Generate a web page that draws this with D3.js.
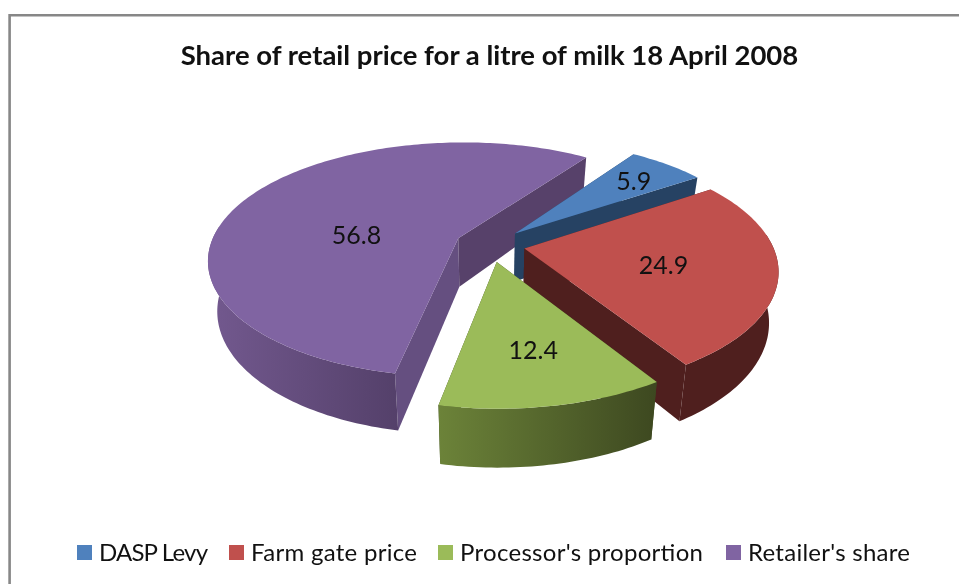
<!DOCTYPE html>
<html>
<head>
<meta charset="utf-8">
<script src="https://cdn.jsdelivr.net/npm/d3@7"></script>
<style>
html, body { margin: 0; padding: 0; background: #fff; }
svg { display: block; filter: blur(0.45px); }
text { font-family: Lato, "Open Sans", sans-serif; fill: #111; }
</style>
</head>
<body>
<div id="chart"></div>
<script>
// Data.
var categories = ["DASP Levy", "Farm gate price", "Processor's proportion", "Retailer's share"];
var shares = [5.9, 24.9, 12.4, 56.8];
var chartTitle = "Share of retail price for a litre of milk 18 April 2008";

var width = 959;
var height = 584;

// Fake 3D camera, worked out from the slice corners.
var cx = 490, cy = 245;
var radius = 248;
var explode = 35;
var tilt = 0.482;
var persp = 0.000718;
var depth = 49;
var bottomScale = 0.967;
var firstAngle = 36;

var topColors = ["#4f81bd", "#c0504d", "#9bbb59", "#8064a2"];
var edgeColors = ["#264263", "#4f1f1e", "#3d4820", "#57416a"];  // wall on the last edge of a slice
var startColors = ["#264263", "#4f1f1e", "#3d4820", "#654f80"]; // wall on the first edge
var wallStops = [["#264263", "#264263"], ["#4f1f1e", "#4f1f1e"], ["#6c8339", "#3d4820"], ["#73598f", "#54406a"]];

// label spot as a fraction of the radius along the slice's middle, plus a nudge
var labelFrac = [0.74, 0.56, 0.64, 0.45];
var labelDx = [2, -1, 2, -5];
var labelDy = [1, 2, 1, 17];

// legend layout
var legendSwatchX = [77, 229, 438, 726];
var legendTextW = [109, 166, 243, 162];

var svg = d3.select("#chart").append("svg")
	.attr("width", width)
	.attr("height", height);

var defs = svg.append("defs");

// frame round the chart, open on the right like the cropped original
svg.append("path")
	.attr("d", "M9.6," + height + "V15.3H" + width)
	.attr("fill", "none")
	.attr("stroke", "#878787")
	.attr("stroke-width", 2.6);

svg.append("text")
	.attr("x", 489.5)
	.attr("y", 64.5)
	.attr("text-anchor", "middle")
	.attr("font-size", 27.5)
	.attr("font-weight", 700)
	.text(chartTitle);

var pie = d3.pie()
	.sort(null)
	.startAngle(firstAngle * Math.PI / 180)
	.endAngle((firstAngle + 360) * Math.PI / 180);

var slices = pie(shares);

// ground plane -> screen. down=true gives the lower face of the pie.
function project(gx, gy, down) {
	var f = 1 + persp * gy;
	var s = down ? bottomScale : 1;
	return [cx + gx * f * s, cy + (tilt * gy + (down ? depth : 0)) * f];
}

function ground(d, angle, r) {
	var mid = (d.startAngle + d.endAngle) / 2;
	return [
		explode * Math.sin(mid) + r * Math.sin(angle),
		-explode * Math.cos(mid) - r * Math.cos(angle)
	];
}

function rimPoints(d, down) {
	var n = Math.ceil((d.endAngle - d.startAngle) / 0.02);
	return d3.range(n + 1).map(function(i) {
		var a = d.startAngle + (d.endAngle - d.startAngle) * i / n;
		var g = ground(d, a, radius);
		return project(g[0], g[1], down);
	});
}

function apex(d, down) {
	var g = ground(d, d.startAngle, 0);
	return project(g[0], g[1], down);
}

var line = d3.line();

// back to front: purple first, green last
var order = [3, 0, 1, 2];

order.forEach(function(i) {
	var d = slices[i];
	var g = svg.append("g").attr("class", "slice");
	var rimTop = rimPoints(d, false);
	var rimBottom = rimPoints(d, true);

	var gradId = "wall" + i;
	var grad = defs.append("linearGradient").attr("id", gradId);
	grad.append("stop").attr("offset", 0).attr("stop-color", wallStops[i][0]);
	grad.append("stop").attr("offset", 1).attr("stop-color", wallStops[i][1]);

	// the two flat walls first, the round wall covers them
	g.append("path")
		.attr("d", line([apex(d, false), rimTop[0], rimBottom[0], apex(d, true)]) + "Z")
		.attr("fill", startColors[i]);

	g.append("path")
		.attr("d", line([apex(d, false), rimTop[rimTop.length - 1], rimBottom[rimBottom.length - 1], apex(d, true)]) + "Z")
		.attr("fill", edgeColors[i]);

	// outer wall only over the part of the rim that faces us
	var front = d3.range(rimTop.length).filter(function(k) {
		var a = d.startAngle + (d.endAngle - d.startAngle) * k / (rimTop.length - 1);
		return Math.cos(a) < 0.12;
	});
	var wallTop = front.map(function(k) { return rimTop[k]; });
	var wallBottom = front.map(function(k) { return rimBottom[k]; }).reverse();

	g.append("path")
		.attr("d", line(wallTop.concat(wallBottom)) + "Z")
		.attr("fill", "url(#" + gradId + ")");

	g.append("path")
		.attr("d", line([apex(d, false)].concat(rimTop)) + "Z")
		.attr("fill", topColors[i]);
});

// value labels go on top of everything
svg.selectAll(".value")
	.data(slices)
	.enter().append("text")
	.attr("class", "value")
	.attr("text-anchor", "middle")
	.attr("font-size", 25)
	.attr("transform", function(d, i) {
		var mid = (d.startAngle + d.endAngle) / 2;
		var g = ground(d, mid, radius * labelFrac[i]);
		var p = project(g[0], g[1], false);
		return "translate(" + (p[0] + labelDx[i]) + "," + (p[1] + labelDy[i] + 9) + ")";
	})
	.text(function(d) { return d.data; });

// legend
categories.forEach(function(name, i) {
	svg.append("rect")
		.attr("x", legendSwatchX[i])
		.attr("y", 545)
		.attr("width", 15)
		.attr("height", 15)
		.attr("fill", topColors[i]);
	svg.append("text")
		.attr("x", legendSwatchX[i] + 22)
		.attr("y", 561)
		.attr("font-size", 24)
		.attr("textLength", legendTextW[i])
		.text(name);
});
</script>
</body>
</html>
